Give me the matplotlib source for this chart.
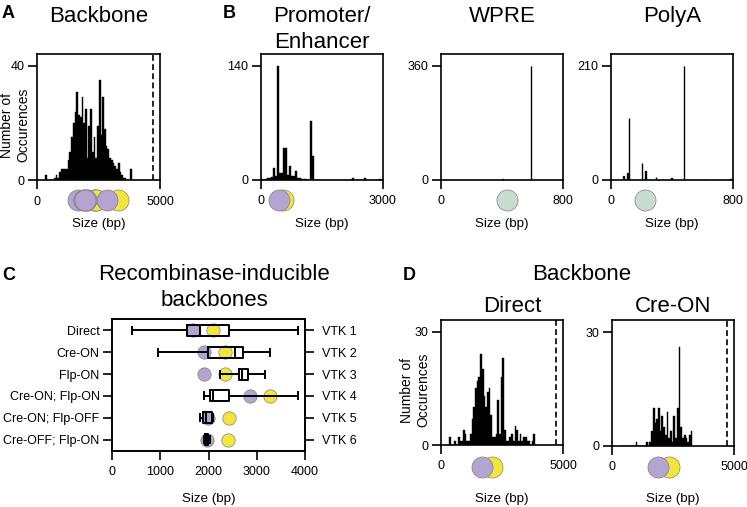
import numpy as np
import matplotlib
matplotlib.use("Agg")
import matplotlib.pyplot as plt
from matplotlib import transforms

plt.rcParams["font.family"] = ["Liberation Sans", "DejaVu Sans"]

W, H = 747, 507

# ─────────────────────────────────────────────────────────────────────────────
# DATA
# ─────────────────────────────────────────────────────────────────────────────

vtk_designs = ["Direct", "Cre-ON", "Flp-ON", "Cre-ON; Flp-ON",
               "Cre-ON; Flp-OFF", "Cre-OFF; Flp-ON"]
vtk_names = ["VTK 1", "VTK 2", "VTK 3", "VTK 4", "VTK 5", "VTK 6"]
vtk_purple = [1671, 1899, 1913, 2866, 1982, 1975]
vtk_yellow = [2085, 2348, 2334, 3281, 2418, 2404]

# box stats of backbone sizes per design (bp)
box_whislo = [410, 950, 2245, 1900, 1816, 1905]
box_q1 = [1554, 1980, 2625, 2025, 1880, 1930]
box_med = [1816, 2540, 2690, 2090, 1955, 1960]
box_q3 = [2430, 2725, 2815, 2430, 2070, 1990]
box_whishi = [3855, 3280, 3170, 3855, 2090, 2035]

packaging_limit = 4700

# backbone histograms: 70 bp bins starting at 350 bp
hist_bin = 70
hist_start = 350
backbone_counts = [2, 0, 0, 0, 0, 1, 2, 1, 3, 4, 4, 4, 4, 7, 10, 15, 20, 24, 31, 23,
                   22, 29, 20, 25, 8, 19, 25, 10, 15, 8, 19, 35, 16, 29, 18, 12, 11, 8, 7, 6,
                   5, 4, 6, 3, 2, 1, 1, 0, 0, 4]
direct_counts = [2, 0, 0, 1, 0, 2, 1, 1, 4, 3, 1, 1, 3, 7, 10, 15, 17, 18, 24, 20,
                 13, 10, 14, 15, 8, 2, 2, 3, 12, 3, 18, 23, 4, 1, 1, 2, 3, 1, 5, 4,
                 1, 3, 1, 2, 2, 1, 1, 0, 1, 3]
creon_counts = [0, 0, 0, 0, 0, 0, 0, 0, 0, 1, 0, 0, 0, 0, 0, 1, 0, 1, 4, 10,
                6, 7, 10, 4, 8, 5, 3, 9, 2, 4, 1, 8, 2, 10, 26, 5, 2, 3, 2, 1,
                3, 4]

# promoter/enhancer histogram: 50 bp bins from 0
prom_bin = 50
prom_counts = [1, 0, 1, 2, 3, 4, 15, 5, 140, 8, 8, 39, 39, 6, 17, 5, 5, 11, 3, 2,
               1, 1, 1, 0, 72, 30, 0, 0, 0, 0, 0, 0, 0, 0, 0, 0, 0, 0, 0, 0,
               0, 0, 0, 0, 0, 2, 0, 0, 0, 0, 0, 3, 0, 0, 0, 0, 0, 0, 1, 0]
prom_purple = 450
prom_yellow = 545

wpre_size = [402, 589]
wpre_count = [2, 358]
wpre_green = 430

polya_size = [83, 111, 120, 206, 228, 296, 398, 478, 615, 783]
polya_count = [7, 13, 114, 32, 17, 5, 3, 210, 1, 1]
polya_green = 226

PURPLE = "#b4a5d0"
YELLOW = "#f4e53e"
GREEN = "#c7ddd0"
EDGE = "#808080"


def fx(px):
    return px / W


def fy(py):
    return 1 - py / H


fig = plt.figure(figsize=(W / 100, H / 100), dpi=100)


def add_axes(left, top, right, bottom):
    return fig.add_axes([fx(left), fy(bottom), (right - left) / W, (bottom - top) / H])


def style_axes(ax):
    for s in ax.spines.values():
        s.set_linewidth(1.2)
    ax.tick_params(direction="out", length=6.5, width=1.2, labelsize=9)
    ax.tick_params(axis="x", pad=4.5)
    ax.tick_params(axis="y", pad=2.5)


def hist_panel(rect, xmax, ytick, ytop):
    ax = add_axes(*rect)
    ax.set_xlim(0, xmax)
    ax.set_ylim(0, ytop)
    ax.set_xticks([0, xmax])
    ax.set_yticks([0, ytick])
    style_axes(ax)
    return ax


def circles(ax, xs, color, y_px, size=230):
    trans = transforms.blended_transform_factory(ax.transData, fig.transFigure)
    ax.scatter(xs, [fy(y_px)] * len(xs), s=size, color=color, edgecolor=EDGE,
               linewidth=0.5, transform=trans, clip_on=False, zorder=5)


def size_label(ax_left, ax_right, baseline):
    fig.text(fx((ax_left + ax_right) / 2), fy(baseline), "Size (bp)",
             ha="center", va="baseline", fontsize=9.6)


def dashed_limit(ax):
    ax.axvline(packaging_limit, color="black", lw=1.2, ls=(0, (3.5, 2)))


bar_kw = dict(align="edge", color="black", edgecolor="black", linewidth=0.3)
spike_kw = dict(width=3, align="center", color="black", edgecolor="black", linewidth=1.0)

# ─────────────────────────────────────────────────────────────────────────────
# A. BACKBONE
# ─────────────────────────────────────────────────────────────────────────────

ax = hist_panel((36.7, 54.3, 160, 180.5), 5000, 40, 44)
edges = hist_start + hist_bin * np.arange(len(backbone_counts))
ax.bar(edges, backbone_counts, width=hist_bin, **bar_kw)
dashed_limit(ax)
circles(ax, vtk_yellow, YELLOW, 200)
circles(ax, vtk_purple, PURPLE, 200)
size_label(36.7, 160, 227.5)
fig.text(fx(15), fy(125), "Number of\nOccurences", rotation=90, ha="center",
         va="center", fontsize=10, multialignment="center")
fig.text(fx(99), fy(22), "Backbone", ha="center", va="baseline", fontsize=16)

# ─────────────────────────────────────────────────────────────────────────────
# B. PROMOTER / WPRE / POLYA
# ─────────────────────────────────────────────────────────────────────────────

ax = hist_panel((260.7, 54, 382.7, 180), 3000, 140, 154.3)
ax.bar(prom_bin * np.arange(len(prom_counts)), prom_counts, width=prom_bin, **bar_kw)
circles(ax, [prom_yellow], YELLOW, 200)
circles(ax, [prom_purple], PURPLE, 200)
size_label(260.7, 382.7, 227.5)
fig.text(fx(322), fy(21.5), "Promoter/", ha="center", va="baseline", fontsize=16)
fig.text(fx(322), fy(48.5), "Enhancer", ha="center", va="baseline", fontsize=16)

ax = hist_panel((440.7, 54, 563.3, 180), 800, 360, 396.9)
ax.bar(wpre_size, wpre_count, **spike_kw)
circles(ax, [wpre_green], GREEN, 200)
size_label(440.7, 563.3, 227.5)
fig.text(fx(502), fy(22), "WPRE", ha="center", va="baseline", fontsize=16)

ax = hist_panel((610.7, 54, 733.3, 180), 800, 210, 231.5)
ax.bar(polya_size, polya_count, **spike_kw)
circles(ax, [polya_green], GREEN, 200)
size_label(610.7, 733.3, 227.5)
fig.text(fx(672), fy(22), "PolyA", ha="center", va="baseline", fontsize=16)

# ─────────────────────────────────────────────────────────────────────────────
# C. RECOMBINASE-INDUCIBLE BACKBONES
# ─────────────────────────────────────────────────────────────────────────────

axc = add_axes(112, 319.3, 305, 450.7)
rows = np.arange(1, len(vtk_designs) + 1)
axc.scatter(vtk_purple, rows, s=92, color=PURPLE, edgecolor=EDGE, linewidth=0.5, zorder=1)
axc.scatter(vtk_yellow, rows, s=92, color=YELLOW, edgecolor=EDGE, linewidth=0.5, zorder=1)

stats = [dict(whislo=lo, q1=q1, med=md, q3=q3, whishi=hi, fliers=[])
         for lo, q1, md, q3, hi in zip(box_whislo, box_q1, box_med, box_q3, box_whishi)]
line = dict(color="black", lw=1.4)
axc.bxp(stats, positions=rows, orientation="horizontal", widths=0.5, capwidths=0.32,
        showfliers=False, boxprops=line, whiskerprops=line, capprops=line,
        medianprops=line)
axc.set_xlim(0, 4000)
axc.set_xticks([0, 1000, 2000, 3000, 4000])
axc.set_ylim(6.5, 0.5)
axc.set_yticks(rows, vtk_designs)
style_axes(axc)

axr = axc.twinx()
axr.set_ylim(6.5, 0.5)
axr.set_yticks(rows, vtk_names)
style_axes(axr)
axr.tick_params(axis="y", pad=6)

size_label(112, 305, 502)
fig.text(fx(214), fy(280), "Recombinase-inducible", ha="center", va="baseline", fontsize=16)
fig.text(fx(214), fy(306), "backbones", ha="center", va="baseline", fontsize=16)

# ─────────────────────────────────────────────────────────────────────────────
# D. BACKBONE: DIRECT vs CRE-ON
# ─────────────────────────────────────────────────────────────────────────────

ax = hist_panel((440.7, 320, 563.3, 445), 5000, 30, 33.1)
ax.bar(hist_start + hist_bin * np.arange(len(direct_counts)), direct_counts,
       width=hist_bin, **bar_kw)
dashed_limit(ax)
circles(ax, [vtk_yellow[0]], YELLOW, 466.7)
circles(ax, [vtk_purple[0]], PURPLE, 466.7)
size_label(440.7, 563.3, 502)
fig.text(fx(512), fy(311.7), "Direct", ha="center", va="baseline", fontsize=16)
fig.text(fx(415), fy(390), "Number of\nOccurences", rotation=90, ha="center",
         va="center", fontsize=10, multialignment="center")

ax = hist_panel((611.7, 320, 734.3, 446), 5000, 30, 33.2)
ax.bar(hist_start + hist_bin * np.arange(len(creon_counts)), creon_counts,
       width=hist_bin, **bar_kw)
dashed_limit(ax)
circles(ax, [vtk_yellow[1]], YELLOW, 466.7)
circles(ax, [vtk_purple[1]], PURPLE, 466.7)
size_label(611.7, 734.3, 502)
fig.text(fx(673), fy(311.7), "Cre-ON", ha="center", va="baseline", fontsize=16)
fig.text(fx(582), fy(280), "Backbone", ha="center", va="baseline", fontsize=16)

# panel letters
for letter, x, y in [("A", 2, 18.3), ("B", 223, 18.3), ("C", 2, 280), ("D", 403, 280)]:
    fig.text(fx(x), fy(y), letter, ha="left", va="baseline", fontsize=13, fontweight="bold")

fig.savefig("out.png", dpi=100)
